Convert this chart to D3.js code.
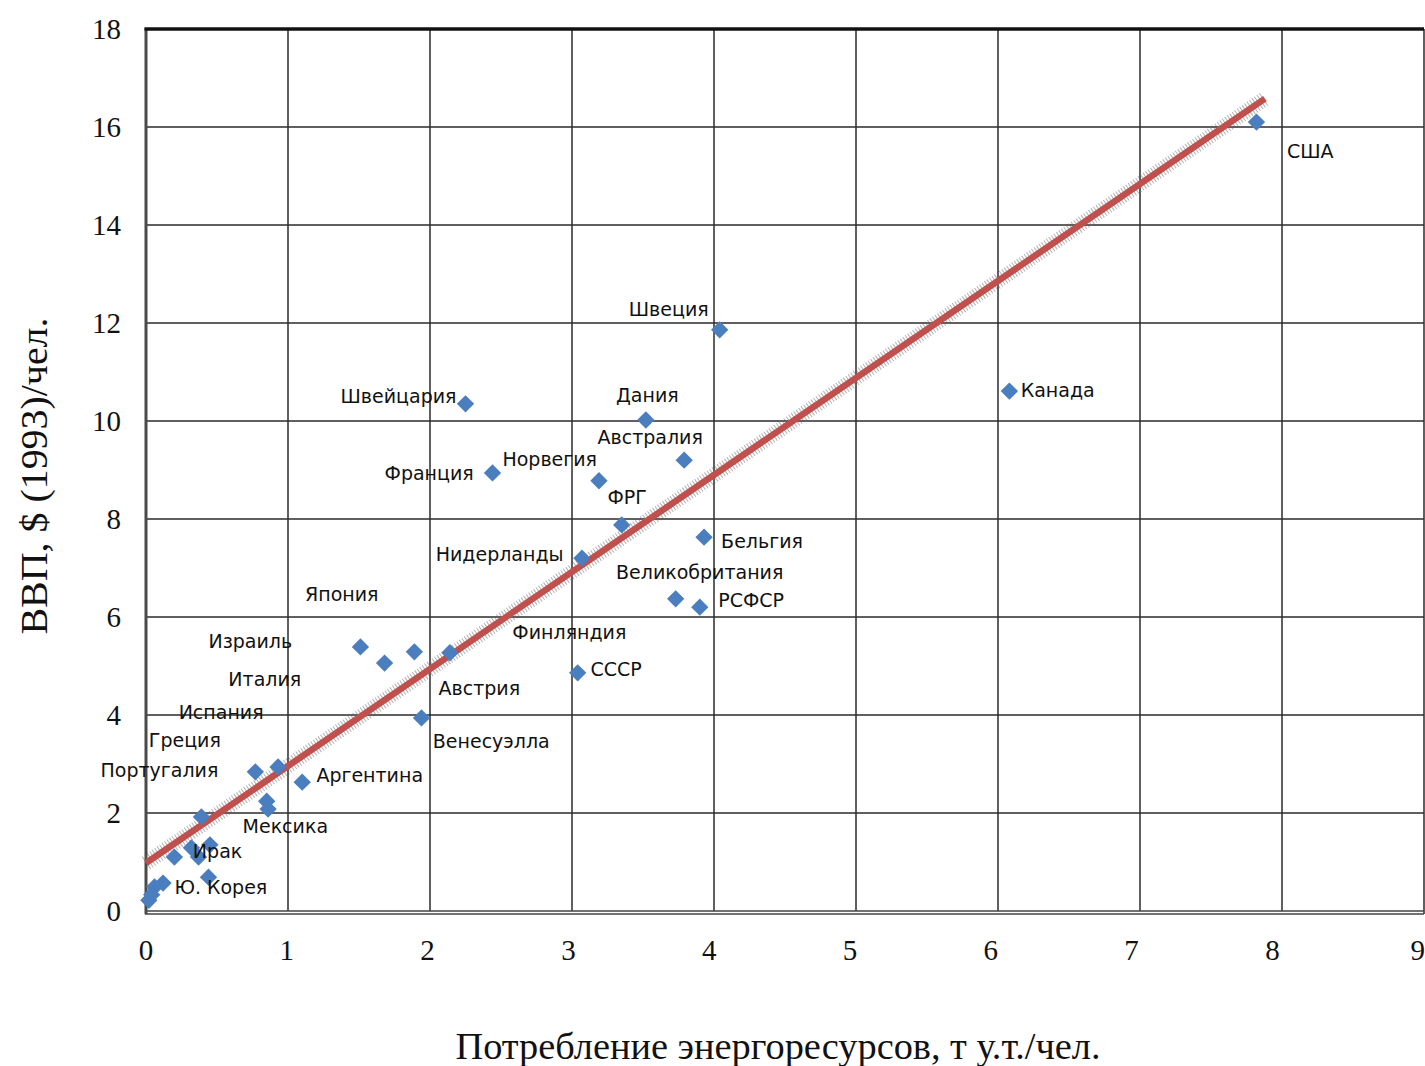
<!DOCTYPE html>
<html>
<head>
<meta charset="utf-8">
<script src="https://cdn.jsdelivr.net/npm/d3@7"></script>
<style>
  html, body { margin: 0; padding: 0; background: #fff; }
  svg { display: block; }
</style>
</head>
<body>
<svg id="chart" width="1425" height="1066"></svg>
<script>
// Energy consumption (t of coal equivalent per capita) vs GDP per capita ($ 1993)
const energy = [7.82, 4.04, 6.08, 2.25, 3.52, 3.79, 2.44, 3.19, 3.35, 3.93, 3.07, 3.73, 3.90,
  3.04, 2.14, 1.89, 1.51, 1.68, 1.94, 1.10, 0.93, 0.77, 0.85, 0.86, 0.39,
  0.20, 0.32, 0.37, 0.45, 0.44, 0.12, 0.06, 0.04, 0.02];
const gdp = [16.10, 11.86, 10.61, 10.35, 10.02, 9.20, 8.94, 8.78, 7.88, 7.63, 7.20, 6.37, 6.20,
  4.86, 5.27, 5.29, 5.39, 5.06, 3.94, 2.63, 2.94, 2.84, 2.24, 2.08, 1.92,
  1.10, 1.29, 1.10, 1.35, 0.69, 0.57, 0.49, 0.33, 0.22];

// Country labels and where each one sits (left edge, vertical centre) in data units
const labelNames = ["США", "Швеция", "Канада", "Швейцария", "Дания", "Австралия", "Норвегия",
  "Франция", "ФРГ", "Нидерланды", "Бельгия", "Великобритания", "РСФСР", "Япония", "Израиль",
  "Финляндия", "Италия", "СССР", "Австрия", "Испания", "Греция", "Венесуэлла", "Португалия",
  "Аргентина", "Мексика", "Ирак", "Ю. Корея"];
const labelX = [8.035, 3.40, 6.16, 1.37, 3.31, 3.18, 2.51, 1.68, 3.25, 2.04, 4.05, 3.31, 4.03,
  1.12, 0.44, 2.58, 0.58, 3.13, 2.06, 0.23, 0.02, 2.02, -0.32, 1.20, 0.68, 0.33, 0.20];
const labelY = [15.51, 12.27, 10.63, 10.51, 10.53, 9.67, 9.22, 8.94, 8.45, 7.27, 7.55, 6.92, 6.33,
  6.47, 5.51, 5.69, 4.73, 4.94, 4.55, 4.06, 3.49, 3.47, 2.88, 2.76, 1.73, 1.22, 0.49];

// Linear trend line end points
const trendX = [0, 7.88];
const trendY = [0.98, 16.58];

const xTicks = [0, 1, 2, 3, 4, 5, 6, 7, 8, 9];
const yTicks = [0, 2, 4, 6, 8, 10, 12, 14, 16, 18];

const xTitle = "Потребление энергоресурсов, т у.т./чел.";
const yTitle = "ВВП, $ (1993)/чел.";

const svg = d3.select("#chart");
const x = d3.scaleLinear().domain([0, 9]).range([146, 1424]);
const y = d3.scaleLinear().domain([0, 18]).range([911, 29]);

const gridColor = "#2b2b2b";

// grid
svg.append("g").selectAll("line").data(xTicks.slice(1, -1)).join("line")
  .attr("x1", d => x(d)).attr("x2", d => x(d))
  .attr("y1", y(18)).attr("y2", y(0))
  .attr("stroke", gridColor).attr("stroke-width", 1.5);
svg.append("g").selectAll("line").data(yTicks.slice(1, -1)).join("line")
  .attr("x1", x(0)).attr("x2", x(9))
  .attr("y1", d => y(d)).attr("y2", d => y(d))
  .attr("stroke", gridColor).attr("stroke-width", 1.5);

// frame
svg.append("line").attr("x1", x(9)).attr("x2", x(9)).attr("y1", y(18)).attr("y2", y(0) + 3)
  .attr("stroke", gridColor).attr("stroke-width", 1.5);
svg.append("line").attr("x1", x(0) - 1).attr("x2", x(9)).attr("y1", y(0)).attr("y2", y(0))
  .attr("stroke", "#444").attr("stroke-width", 1.5);
svg.append("line").attr("x1", x(0) - 1).attr("x2", x(9)).attr("y1", y(0) + 3).attr("y2", y(0) + 3)
  .attr("stroke", "#444").attr("stroke-width", 1.5);
svg.append("line").attr("x1", x(0)).attr("x2", x(0)).attr("y1", y(18) - 1).attr("y2", y(0) + 3)
  .attr("stroke", "#4a4a4a").attr("stroke-width", 3);
svg.append("line").attr("x1", x(0) - 1.5).attr("x2", x(9)).attr("y1", y(18)).attr("y2", y(18))
  .attr("stroke", "#111").attr("stroke-width", 3.5);

// tick labels
const tickFont = "'Liberation Serif', 'Times New Roman', serif";
svg.append("g").selectAll("text").data(yTicks).join("text")
  .attr("x", 121).attr("y", d => y(d))
  .attr("dy", "0.35em").attr("text-anchor", "end")
  .attr("font-family", tickFont).attr("font-size", 29).attr("fill", "#111")
  .text(d => d);
svg.append("g").selectAll("text").data(xTicks).join("text")
  .attr("x", (d, i) => i === xTicks.length - 1 ? 1425 : x(d) - d * 1.2)
  .attr("y", 950).attr("dy", "0.35em")
  .attr("text-anchor", (d, i) => i === xTicks.length - 1 ? "end" : "middle")
  .attr("font-family", tickFont).attr("font-size", 29).attr("fill", "#111")
  .text(d => d);

// axis titles
svg.append("text").attr("x", 778).attr("y", 1046).attr("dy", "0.35em")
  .attr("text-anchor", "middle").attr("font-family", tickFont).attr("font-size", 37)
  .attr("textLength", 645).attr("lengthAdjust", "spacingAndGlyphs")
  .attr("fill", "#111").text(xTitle);
svg.append("text").attr("transform", "translate(34,476) rotate(-90)").attr("dy", "0.35em")
  .attr("text-anchor", "middle").attr("font-family", tickFont).attr("font-size", 37)
  .attr("textLength", 317).attr("lengthAdjust", "spacingAndGlyphs")
  .attr("fill", "#111").text(yTitle);

// trend line with a soft stippled shadow
const trend = trendX.map((v, i) => [v, trendY[i]]);
const lineGen = d3.line().x(d => x(d[0])).y(d => y(d[1]));
svg.append("path").datum(trend).attr("d", lineGen)
  .attr("fill", "none").attr("stroke", "#666").attr("stroke-width", 15)
  .attr("stroke-dasharray", "1 2").attr("opacity", 0.5);
svg.append("path").datum(trend).attr("d", lineGen)
  .attr("fill", "none").attr("stroke", "#c0504d").attr("stroke-width", 6.5)
  .attr("stroke-linecap", "butt");

// markers: square rotated by 45 degrees
const points = energy.map((v, i) => [v, gdp[i]]);
const diamond = d3.symbol().type(d3.symbolSquare).size(150);
svg.append("g").selectAll("path").data(points).join("path")
  .attr("d", diamond)
  .attr("transform", d => `translate(${x(d[0])},${y(d[1])}) rotate(45)`)
  .attr("fill", "#4a7ebf");

// country labels
svg.append("g").selectAll("text").data(labelNames).join("text")
  .attr("x", (d, i) => x(labelX[i])).attr("y", (d, i) => y(labelY[i]))
  .attr("dy", "0.35em")
  .attr("font-family", "'DejaVu Sans', Verdana, sans-serif").attr("font-size", 19)
  .attr("fill", "#111")
  .text(d => d);
</script>
</body>
</html>
